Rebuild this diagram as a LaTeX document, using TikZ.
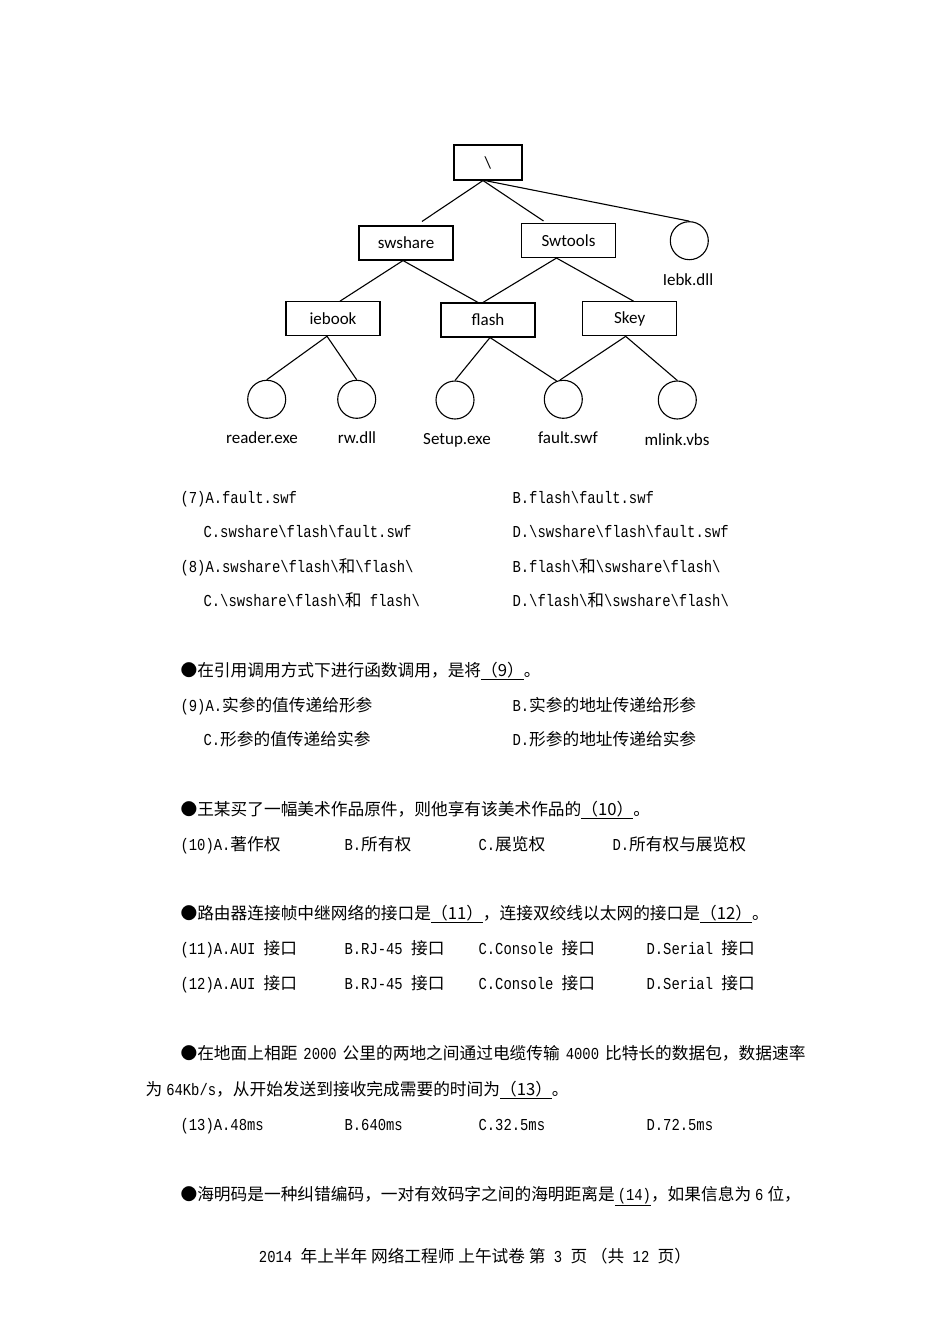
\documentclass[tikz,border=0pt]{standalone}
\usepackage{fontspec}
\setmainfont{Liberation Mono}[FakeStretch=0.83]
\newfontfamily\cjk{Noto Sans CJK SC}
\newfontfamily\treefont{Carlito}
\usepackage{tikz}
\usetikzlibrary{positioning}
\newcommand\zh[1]{{\cjk #1}}
\newcommand\bsl{\textbackslash}

\begin{document}
\begin{tikzpicture}[x=1pt,y=-1pt,line width=1.1pt,
  dir/.style={draw,rectangle,minimum width=94pt,minimum height=34pt,inner sep=0pt,font=\treefont\fontsize{17}{20}\selectfont},
  file/.style={draw,circle,minimum size=38pt,inner sep=0pt},
  fname/.style={inner sep=0pt,font=\treefont\fontsize{17}{20}\selectfont},
  txt/.style={anchor=base west,inner sep=0pt,font=\fontsize{16.7}{20}\selectfont}]
  \fill[white] (0,0) rectangle (950,1344);
  \useasboundingbox (0,0) rectangle (950,1344);
  \node[dir,minimum width=68pt,minimum height=35pt] (root) at (488,162.5) {\textbackslash};
  \node[dir] (swshare) at (406,243) {swshare};
  \node[dir] (swtools) at (568.5,240.5) {Swtools};
  \node[file] (iebk) at (689.3,240.7) {};
  \node[fname] (iebk lbl) at (688,280) {Iebk.dll};
  \node[dir] (iebook) at (333,318.7) {iebook};
  \node[dir] (flash) at (488,320) {flash};
  \node[dir] (skey) at (629.7,318.8) {Skey};
  \node[file] (reader) at (266.7,399.3) {};
  \node[file] (rw) at (356.7,399.3) {};
  \node[file] (setup) at (455,400) {};
  \node[file] (fault) at (563.3,399.3) {};
  \node[file] (mlink) at (677.3,400) {};
  \node[fname] (reader lbl) at (262,438) {reader.exe};
  \node[fname] (rw lbl) at (357,438) {rw.dll};
  \node[fname] (setup lbl) at (457,440) {Setup.exe};
  \node[fname] (fault lbl) at (568,438) {fault.swf};
  \node[fname] (mlink lbl) at (677,440) {mlink.vbs};
  \draw ([xshift=-5pt]root.south) -- ([xshift=16pt,yshift=4pt]swshare.north);
  \draw ([xshift=-5pt]root.south) -- ([xshift=-25pt,yshift=2pt]swtools.north);
  \draw ([xshift=-3pt]root.south) -- (iebk.north);
  \draw ([xshift=-3pt]swshare.south) -- ([xshift=7pt]iebook.north);
  \draw ([xshift=-3pt]swshare.south) -- ([xshift=-10pt]flash.north);
  \draw ([xshift=-12pt]swtools.south) -- ([xshift=-5pt]flash.north);
  \draw ([xshift=-12pt]swtools.south) -- ([xshift=4pt]skey.north);
  \draw ([xshift=-6pt]iebook.south) -- (reader.north);
  \draw ([xshift=-6pt]iebook.south) -- (rw.north);
  \draw ([xshift=2pt]flash.south) -- (setup.north);
  \draw ([xshift=2pt]flash.south) -- (fault.110);
  \draw ([xshift=-4pt]skey.south) -- (fault.100);
  \draw ([xshift=-4pt]skey.south) -- (mlink.north);
  \node[txt] (q7a) at (180,503) {(7)A.fault.swf};
  \node[txt] (q7b) at (512,503) {B.flash\bsl fault.swf};
  \node[txt] (q7c) at (203,537) {C.swshare\bsl flash\bsl fault.swf};
  \node[txt] (q7d) at (512,537) {D.\bsl swshare\bsl flash\bsl fault.swf};
  \node[txt] (q8a) at (180,572) {(8)A.swshare\bsl flash\bsl\zh{和}\bsl flash\bsl};
  \node[txt] (q8b) at (512,572) {B.flash\bsl\zh{和}\bsl swshare\bsl flash\bsl};
  \node[txt] (q8c) at (203,606) {C.\bsl swshare\bsl flash\bsl\zh{和} flash\bsl};
  \node[txt] (q8d) at (512,606) {D.\bsl flash\bsl\zh{和}\bsl swshare\bsl flash\bsl};
  \node[txt] (q9) at (180,676) {\zh{●在引用调用方式下进行函数调用，是将\underline{（9）}。}};
  \node[txt] (q9a) at (180,711) {(9)A.\zh{实参的值传递给形参}};
  \node[txt] (q9b) at (512,711) {B.\zh{实参的地址传递给形参}};
  \node[txt] (q9c) at (203,745) {C.\zh{形参的值传递给实参}};
  \node[txt] (q9d) at (512,745) {D.\zh{形参的地址传递给实参}};
  \node[txt] (q10) at (180,815) {\zh{●王某买了一幅美术作品原件，则他享有该美术作品的\underline{（10）}。}};
  \node[txt] (q10a) at (180,850) {(10)A.\zh{著作权}};
  \node[txt] (q10b) at (344,850) {B.\zh{所有权}};
  \node[txt] (q10c) at (478,850) {C.\zh{展览权}};
  \node[txt] (q10d) at (612,850) {D.\zh{所有权与展览权}};
  \node[txt] (q11) at (180,919) {\zh{●路由器连接帧中继网络的接口是\underline{（11）}，连接双绞线以太网的接口是\underline{（12）}。}};
  \node[txt] (q11a) at (180,954) {(11)A.AUI \zh{接口}};
  \node[txt] (q11b) at (344,954) {B.RJ-45 \zh{接口}};
  \node[txt] (q11c) at (478,954) {C.Console \zh{接口}};
  \node[txt] (q11d) at (646,954) {D.Serial \zh{接口}};
  \node[txt] (q12a) at (180,989) {(12)A.AUI \zh{接口}};
  \node[txt] (q12b) at (344,989) {B.RJ-45 \zh{接口}};
  \node[txt] (q12c) at (478,989) {C.Console \zh{接口}};
  \node[txt] (q12d) at (646,989) {D.Serial \zh{接口}};
  \node[txt] (q13) at (180,1059) {\zh{●在地面上相距}\hspace{6pt}2000\hspace{6pt}\zh{公里的两地之间通过电缆传输}\hspace{6pt}4000\hspace{6pt}\zh{比特长的数据包，数据速率}};
  \node[txt] (q13l) at (145,1095) {\zh{为}\hspace{4pt}64Kb/s\zh{，从开始发送到接收完成需要的时间为\underline{（13）}。}};
  \node[txt] (q13a) at (180,1130) {(13)A.48ms};
  \node[txt] (q13b) at (344,1130) {B.640ms};
  \node[txt] (q13c) at (478,1130) {C.32.5ms};
  \node[txt] (q13d) at (646,1130) {D.72.5ms};
  \node[txt] (q14) at (180,1200) {\zh{●海明码是一种纠错编码，一对有效码字之间的海明距离是}\underline{\hspace{3pt}(14)}\zh{，如果信息为}\hspace{4pt}6\hspace{4pt}\zh{位，}};
  \node[txt,anchor=base] (foot) at (475,1262) {2014 \zh{年上半年 网络工程师 上午试卷 第} 3 \zh{页 （共} 12 \zh{页）}};
\end{tikzpicture}
\end{document}
